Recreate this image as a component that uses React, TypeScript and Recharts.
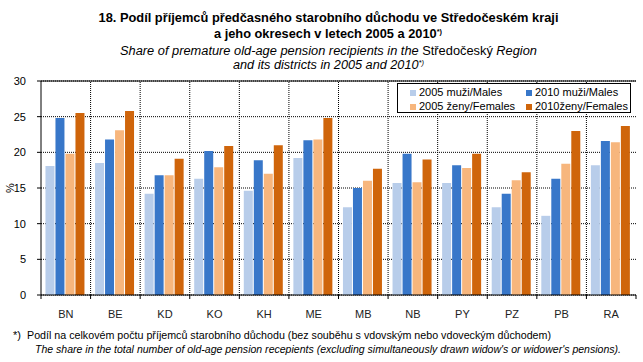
import React from 'react';
import { BarChart, Bar, XAxis, YAxis, CartesianGrid, ReferenceLine } from 'recharts';

const categories = ['BN', 'BE', 'KD', 'KO', 'KH', 'ME', 'MB', 'NB', 'PY', 'PZ', 'PB', 'RA'];
const males2005 = [18.1, 18.5, 14.2, 16.3, 14.6, 19.2, 12.3, 15.7, 15.7, 12.3, 11.1, 18.2];
const males2010 = [24.8, 21.8, 16.8, 20.2, 18.9, 21.7, 15.0, 19.8, 18.2, 14.2, 16.3, 21.6];
const females2005 = [19.8, 23.1, 16.8, 17.9, 17.0, 21.8, 16.0, 15.8, 17.8, 16.1, 18.4, 21.4];
const females2010 = [25.5, 25.8, 19.1, 20.9, 21.0, 24.8, 17.7, 19.0, 19.8, 17.2, 23.0, 23.7];
const yTicks = [0, 5, 10, 15, 20, 25, 30];

const seriesNames = ['2005 muži/Males', '2010 muži/Males', '2005 ženy/Females', '2010ženy/Females'];
const seriesKeys = ['m2005', 'm2010', 'f2005', 'f2010'];
const seriesColors = ['#B8CDEA', '#3877C9', '#F7B67D', '#CF650B'];

const data = categories.map((c, i) => ({
  name: c,
  m2005: males2005[i],
  m2010: males2010[i],
  f2005: females2005[i],
  f2010: females2010[i],
}));

const FONT = "'Liberation Sans', Arial, sans-serif";
const NARROW = "'Liberation Sans Narrow', 'Arial Narrow', 'Liberation Sans', Arial, sans-serif";

const XTick = (props: any) => {
  const { x, y, payload, index } = props;
  const off = payload && payload.offset != null ? payload.offset : 0;
  return (
    <g>
      <line x1={x - off} x2={x - off} y1={y} y2={y + 4} stroke="#000" />
      {index === categories.length - 1 && (
        <line x1={x + off} x2={x + off} y1={y} y2={y + 4} stroke="#000" />
      )}
      <text x={x} y={y + 23} textAnchor="middle" fontSize={11} fill="#222" fontFamily={FONT}>
        {payload.value}
      </text>
    </g>
  );
};

export default function App() {
  return (
    <div style={{ position: 'absolute', left: 0, top: 0, width: 643, height: 362, background: '#fff', fontFamily: FONT }}>
      <BarChart
        width={643}
        height={362}
        data={data}
        margin={{ top: 81, right: 7, bottom: 0, left: 0 }}
        barCategoryGap="9%"
        barGap={1}
      >
        <CartesianGrid vertical={false} stroke="#000" strokeDasharray="1 1" />
        <XAxis
          dataKey="name"
          height={67}
          axisLine={{ stroke: '#000' }}
          tickLine={false}
          tickSize={0}
          tickMargin={0}
          interval={0}
          tick={<XTick />}
        />
        <YAxis
          width={41}
          domain={[0, 30]}
          ticks={yTicks}
          interval={0}
          axisLine={{ stroke: '#000' }}
          tickLine={{ stroke: '#000' }}
          tickSize={4}
          tickMargin={11}
          tick={{ fontSize: 11, fill: '#000', fontFamily: FONT }}
        />
        {categories.slice(1).map((c) => (
          <ReferenceLine key={c} x={c} position="start" stroke="#000" strokeDasharray="1 1" />
        ))}
        <ReferenceLine x={categories[categories.length - 1]} position="end" stroke="#000" />
        <ReferenceLine y={30} stroke="#000" />
        {seriesKeys.map((k, i) => (
          <Bar key={k} dataKey={k} name={seriesNames[i]} fill={seriesColors[i]} isAnimationActive={false} />
        ))}
      </BarChart>

      <svg width={643} height={362} style={{ position: 'absolute', left: 0, top: 0, pointerEvents: 'none' }}>
        <text x={328.5} y={21.5} textAnchor="middle" fontSize={13} fontWeight="bold" fill="#000"
          fontFamily={NARROW} textLength={460} lengthAdjust="spacingAndGlyphs">
          18. Podíl příjemců předčasného starobního důchodu ve Středočeském kraji
        </text>
        <text x={328} y={37.5} textAnchor="middle" fontSize={13} fontWeight="bold" fill="#000"
          fontFamily={NARROW} textLength={228} lengthAdjust="spacingAndGlyphs">
          a jeho okresech v letech 2005 a 2010<tspan fontSize={7.5} dy={-4}>*)</tspan>
        </text>
        <text x={328.5} y={55} textAnchor="middle" fontSize={12.5} fill="#000" fontFamily={FONT}
          textLength={417} lengthAdjust="spacingAndGlyphs">
          <tspan fontStyle="italic">Share of premature old-age pension recipients in the </tspan>
          <tspan>Středočeský</tspan>
          <tspan fontStyle="italic"> Region</tspan>
        </text>
        <text x={328.5} y={69} textAnchor="middle" fontSize={12.5} fill="#000" fontFamily={FONT} fontStyle="italic"
          textLength={191} lengthAdjust="spacingAndGlyphs">
          and its districts in 2005 and 2010<tspan fontSize={7.5} dy={-4}>*)</tspan>
        </text>

        <text x={10} y={188} textAnchor="middle" fontSize={11} fill="#000" fontFamily={FONT}
          transform="rotate(-90 10 188)" dominantBaseline="central">%</text>

        <text x={13} y={339} fontSize={11} fill="#000" fontFamily={FONT}>*)</text>
        <text x={27} y={339} fontSize={11} fill="#000" fontFamily={FONT}
          textLength={524} lengthAdjust="spacingAndGlyphs">
          Podíl na celkovém počtu příjemců starobního důchodu (bez souběhu s vdovským nebo vdoveckým důchodem)
        </text>
        <text x={35} y={353} fontSize={10.5} fill="#000" fontFamily={FONT} fontStyle="italic"
          textLength={586} lengthAdjust="spacingAndGlyphs">
          The share in the total number of old-age pension recepients (excluding simultaneously drawn widow's or widower's pensions).
        </text>
      </svg>

      <div style={{
        position: 'absolute', left: 397, top: 83, width: 234, height: 30, boxSizing: 'border-box',
        border: '1px solid #000', background: '#fff', fontSize: 11, color: '#000', fontFamily: FONT,
      }}>
        {seriesNames.map((n, i) => (
          <div key={n} style={{
            position: 'absolute',
            left: i % 2 === 0 ? 12 : 128,
            top: i < 2 ? 2 : 16,
            display: 'flex', alignItems: 'center', whiteSpace: 'nowrap', lineHeight: '13px',
          }}>
            <span style={{ display: 'inline-block', width: 6, height: 6, background: seriesColors[i], marginRight: 3 }} />
            <span>{n}</span>
          </div>
        ))}
      </div>
    </div>
  );
}
